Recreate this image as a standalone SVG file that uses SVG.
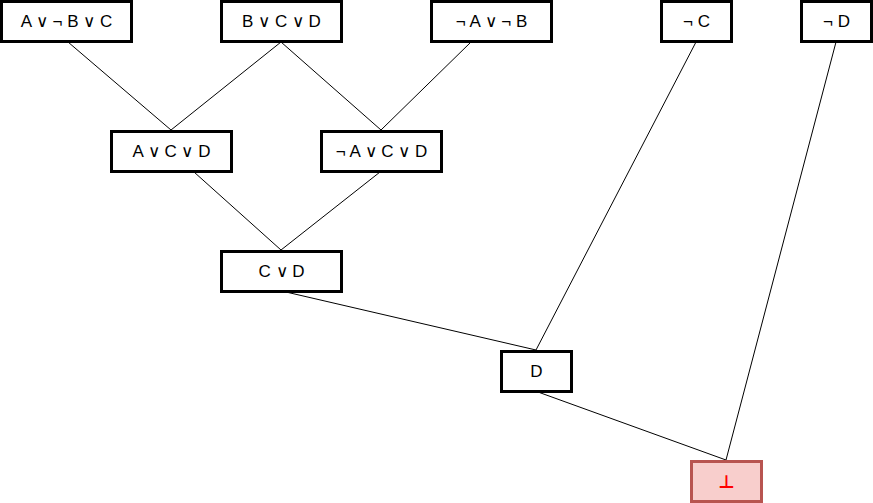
<svg xmlns="http://www.w3.org/2000/svg" width="873" height="503" viewBox="0 0 873 503">
<style>
.n rect{fill:#fff;stroke:#000;stroke-width:3}
.n text{font-family:"Liberation Sans",Arial,sans-serif;font-size:17px;fill:#000;text-anchor:middle;dominant-baseline:central}
#bot rect{fill:#f8cecc;stroke:#b85450}
#bot text{fill:#ff0000;font-family:"DejaVu Sans",sans-serif;font-size:18px;font-weight:bold}
#edges line{stroke:#000;stroke-width:1}
</style>
<rect width="873" height="503" fill="#fff"/>
<g id="edges">
<line x1="68" y1="42" x2="171" y2="130"/>
<line x1="281" y1="42" x2="171" y2="130"/>
<line x1="281" y1="42" x2="381" y2="130"/>
<line x1="471" y1="42" x2="381" y2="130"/>
<line x1="194" y1="172" x2="281" y2="250"/>
<line x1="380" y1="172" x2="281" y2="250"/>
<line x1="286" y1="292" x2="536" y2="350"/>
<line x1="696" y1="42" x2="536" y2="350"/>
<line x1="538" y1="392" x2="726" y2="460"/>
<line x1="836" y1="42" x2="726" y2="460"/>
</g>
<g id="n1" class="n"><rect x="1.5" y="1.5" width="130" height="40"/><text x="66.5" y="21.5">A ∨ ¬ B ∨ C</text></g>
<g id="n2" class="n"><rect x="221.5" y="1.5" width="120" height="40"/><text x="281.5" y="21.5">B ∨ C ∨ D</text></g>
<g id="n3" class="n"><rect x="431.5" y="1.5" width="120" height="40"/><text x="491.5" y="21.5">¬ A ∨ ¬ B</text></g>
<g id="n4" class="n"><rect x="661.5" y="1.5" width="70" height="40"/><text x="696.5" y="21.5">¬ C</text></g>
<g id="n5" class="n"><rect x="801.5" y="1.5" width="70" height="40"/><text x="836.5" y="21.5">¬ D</text></g>
<g id="n6" class="n"><rect x="111.5" y="131.5" width="120" height="40"/><text x="171.5" y="151.5">A ∨ C ∨ D</text></g>
<g id="n7" class="n"><rect x="321.5" y="131.5" width="120" height="40"/><text x="381.5" y="151.5">¬ A ∨ C ∨ D</text></g>
<g id="n8" class="n"><rect x="221.5" y="251.5" width="120" height="40"/><text x="281.5" y="271.5">C ∨ D</text></g>
<g id="n9" class="n"><rect x="501.5" y="351.5" width="70" height="40"/><text x="536.5" y="371.5">D</text></g>
<g id="bot" class="n"><rect x="691.5" y="461.5" width="70" height="40"/><text x="726.5" y="481.5">⊥</text></g>
</svg>
